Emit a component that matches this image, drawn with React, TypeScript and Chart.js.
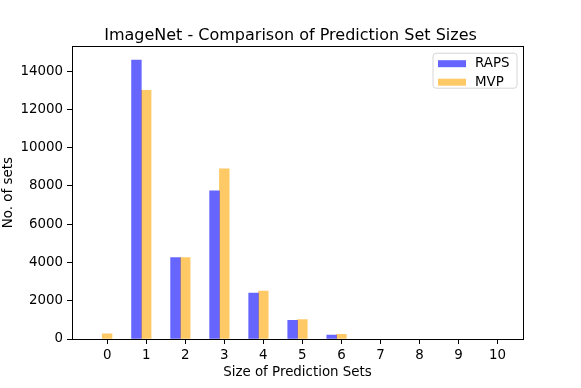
import React, { useEffect, useRef } from "react";
import { Chart, registerables } from "chart.js";

Chart.register(...registerables);

const categories = [0, 1, 2, 3, 4, 5, 6, 7, 8, 9, 10];
const rapsValues = [0, 14570, 4250, 7740, 2400, 970, 210, 0, 0, 0, 0];
const mvpValues = [270, 13000, 4250, 8890, 2500, 1020, 240, 0, 0, 0, 0];
const yTicks = [0, 2000, 4000, 6000, 8000, 10000, 12000, 14000];
const seriesNames = ["RAPS", "MVP"];
const titleText = "ImageNet - Comparison of Prediction Set Sizes";
const xLabel = "Size of Prediction Sets";
const yLabel = "No. of sets";

const FONT = "'DejaVu Sans', sans-serif";
const SMALL = 13.4;

const framePlugin = {
  id: "frameAndLegend",
  afterDraw(chart: any) {
    const { ctx, chartArea } = chart;
    const { left, right, top, bottom } = chartArea;
    ctx.save();
    ctx.strokeStyle = "#000";
    ctx.lineWidth = 1;
    ctx.strokeRect(Math.round(left) + 0.5, Math.round(top) + 0.5, Math.round(right - left), Math.round(bottom - top));

    // legend
    const bx = right - 90;
    const by = top + 7;
    const bw = 84;
    const bh = 35;
    const r = 3;
    ctx.beginPath();
    ctx.moveTo(bx + r, by);
    ctx.lineTo(bx + bw - r, by);
    ctx.quadraticCurveTo(bx + bw, by, bx + bw, by + r);
    ctx.lineTo(bx + bw, by + bh - r);
    ctx.quadraticCurveTo(bx + bw, by + bh, bx + bw - r, by + bh);
    ctx.lineTo(bx + r, by + bh);
    ctx.quadraticCurveTo(bx, by + bh, bx, by + bh - r);
    ctx.lineTo(bx, by + r);
    ctx.quadraticCurveTo(bx, by, bx + r, by);
    ctx.closePath();
    ctx.fillStyle = "rgba(255,255,255,0.8)";
    ctx.fill();
    ctx.strokeStyle = "#d6d6d6";
    ctx.lineWidth = 1;
    ctx.stroke();

    const ds = chart.data.datasets;
    ctx.font = `${SMALL}px ${FONT}`;
    ctx.textBaseline = "middle";
    ctx.textAlign = "left";
    for (let i = 0; i < ds.length; i++) {
      const cy = by + 10.5 + i * 18.5;
      ctx.fillStyle = ds[i].backgroundColor;
      ctx.fillRect(bx + 5, cy - 3.5, 28, 7);
      ctx.fillStyle = "#000";
      ctx.fillText(ds[i].label, bx + 42, cy);
    }
    ctx.restore();
  },
};

export default function App() {
  const ref = useRef<HTMLCanvasElement>(null);
  useEffect(() => {
    if (!ref.current) return;
    const chart = new Chart(ref.current, {
      type: "bar",
      data: {
        datasets: [
          {
            label: seriesNames[0],
            data: categories.map((c, i) => ({ x: c - 0.25, y: rapsValues[i] === 0 ? null : rapsValues[i] })),
            backgroundColor: "rgba(0,0,255,0.6)",
            borderWidth: 0,
            yAxisID: "y",
          },
          {
            label: seriesNames[1],
            data: categories.map((c, i) => ({ x: c, y: mvpValues[i] === 0 ? null : mvpValues[i] })),
            backgroundColor: "rgba(255,165,0,0.6)",
            borderWidth: 0,
            yAxisID: "y",
          },
        ],
      },
      plugins: [framePlugin],
      options: {
        animation: false,
        responsive: false,
        devicePixelRatio: 1,
        grouped: false,
        categoryPercentage: 1,
        barPercentage: 1,
        layout: { padding: { left: 0, right: 0, top: 0, bottom: 0 } },
        plugins: {
          legend: { display: false },
          tooltip: { enabled: false },
          title: {
            display: true,
            text: titleText,
            color: "#000",
            font: { family: FONT, size: 16, weight: "normal" },
            padding: { top: 26, bottom: 1 },
          },
        },
        scales: {
          x: {
            type: "linear",
            offset: false,
            min: -0.9,
            max: 10.65,
            afterBuildTicks: (s: any) => {
              s.ticks = categories.map((v) => ({ value: v }));
            },
            afterFit: (s: any) => {
              s.height = 49;
            },
            grid: { display: true, offset: false, drawOnChartArea: false, drawTicks: true, tickLength: 5, color: "#000" },
            border: { display: true, color: "#000" },
            ticks: { color: "#000", font: { family: FONT, size: SMALL }, padding: 3, maxRotation: 0, autoSkip: false },
            title: {
              display: true,
              text: xLabel,
              color: "#000",
              font: { family: FONT, size: SMALL },
              padding: { top: 0, bottom: 7 },
            },
          },
          y: {
            type: "linear",
            min: 0,
            max: 15300,
            afterBuildTicks: (s: any) => {
              s.ticks = yTicks.map((v) => ({ value: v }));
            },
            afterFit: (s: any) => {
              s.width = 72;
            },
            grid: { display: true, drawOnChartArea: false, drawTicks: true, tickLength: 5, color: "#000" },
            border: { display: true, color: "#000" },
            ticks: {
              color: "#000",
              font: { family: FONT, size: SMALL },
              padding: 4,
              callback: (v: any) => String(v),
            },
            title: {
              display: true,
              text: yLabel,
              color: "#000",
              font: { family: FONT, size: SMALL },
              padding: { top: 0, bottom: 0 },
            },
          },
          yRight: {
            type: "linear",
            position: "right",
            min: 0,
            max: 1,
            afterFit: (s: any) => {
              s.width = 58;
            },
            grid: { display: false, drawOnChartArea: false, drawTicks: false },
            border: { display: false },
            ticks: { display: false },
          },
        },
      } as any,
    });
    return () => chart.destroy();
  }, []);
  return (
    <div style={{ position: "absolute", left: 0, top: 0, width: 581, height: 388, background: "#fff" }}>
      <canvas ref={ref} width={581} height={388} style={{ width: 581, height: 388, display: "block" }} />
    </div>
  );
}
